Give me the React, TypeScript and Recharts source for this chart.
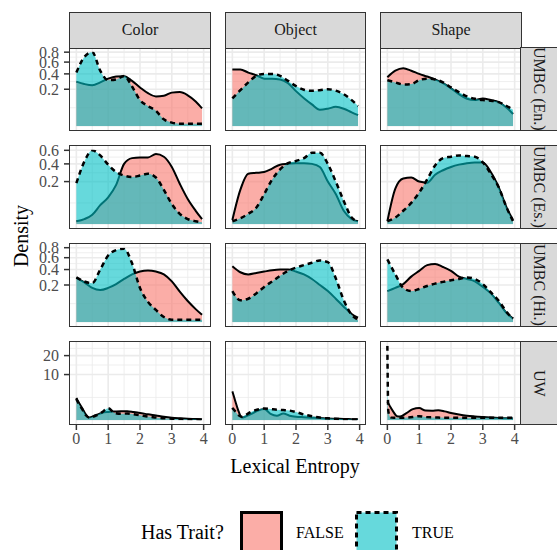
import { AreaChart, Area, XAxis, YAxis, CartesianGrid } from "recharts";

const facetCols = ["Color", "Object", "Shape"];
const facetRows = ["UMBC (En.)", "UMBC (Es.)", "UMBC (Hi.)", "UW"];

const xTicks = [0, 1, 2, 3, 4];
const xMinor = [0.5, 1.5, 2.5, 3.5];

// sampled entropy positions (UW rows need finer steps near 0)
const entropyX = [0, 0.25, 0.5, 0.75, 1, 1.25, 1.5, 1.75, 2, 2.25, 2.5, 2.75, 3, 3.25, 3.5, 3.75, 3.95];
const entropyXUW = [0, 0.03, 0.1, 0.2, 0.3, 0.4, 0.6, 0.8, 1, 1.2, 1.4, 1.6, 1.8, 2, 2.25, 2.5, 2.75, 3, 3.25, 3.5, 3.75, 3.95];

// UMBC (En.)
const colorEnFalse = [0.29, 0.26, 0.245, 0.28, 0.33, 0.36, 0.365, 0.3, 0.22, 0.16, 0.13, 0.135, 0.165, 0.17, 0.14, 0.09, 0.047];
const colorEnTrue = [0.42, 0.7, 0.8, 0.45, 0.31, 0.32, 0.37, 0.23, 0.1, 0.06, 0.035, 0.007, 0.002, 0.001, 0.001, 0.001, 0.001];
const objectEnFalse = [0.47, 0.47, 0.42, 0.38, 0.33, 0.33, 0.32, 0.27, 0.18, 0.115, 0.07, 0.04, 0.045, 0.055, 0.045, 0.028, 0.018];
const objectEnTrue = [0.113, 0.19, 0.28, 0.37, 0.4, 0.4, 0.37, 0.3, 0.235, 0.195, 0.183, 0.19, 0.2, 0.185, 0.15, 0.1, 0.06];
const shapeEnFalse = [0.35, 0.45, 0.49, 0.45, 0.4, 0.36, 0.32, 0.27, 0.21, 0.15, 0.11, 0.1, 0.113, 0.1, 0.085, 0.05, 0.022];
const shapeEnTrue = [0.31, 0.28, 0.255, 0.26, 0.31, 0.33, 0.32, 0.28, 0.22, 0.17, 0.13, 0.11, 0.1, 0.095, 0.085, 0.06, 0.04];

// UMBC (Es.)
const colorEsFalse = [0.001, 0.003, 0.01, 0.04, 0.08, 0.17, 0.4, 0.48, 0.49, 0.49, 0.54, 0.5, 0.36, 0.18, 0.07, 0.02, 0.003];
const colorEsTrue = [0.185, 0.43, 0.6, 0.52, 0.39, 0.3, 0.26, 0.245, 0.26, 0.28, 0.24, 0.13, 0.045, 0.012, 0.003, 0.001, 0.0005];
const objectEsFalse = [0.002, 0.13, 0.28, 0.29, 0.3, 0.34, 0.39, 0.4, 0.41, 0.41, 0.4, 0.36, 0.2, 0.1, 0.02, 0.003, 0.001];
const objectEsTrue = [0.001, 0.004, 0.012, 0.03, 0.1, 0.22, 0.33, 0.41, 0.44, 0.48, 0.56, 0.56, 0.4, 0.2, 0.06, 0.005, 0.001];
const shapeEsFalse = [0.001, 0.14, 0.23, 0.24, 0.2, 0.19, 0.27, 0.32, 0.36, 0.39, 0.41, 0.42, 0.42, 0.3, 0.15, 0.03, 0.002];
const shapeEsTrue = [0.001, 0.005, 0.02, 0.05, 0.11, 0.22, 0.38, 0.48, 0.5, 0.52, 0.51, 0.5, 0.42, 0.28, 0.15, 0.03, 0.001];

// UMBC (Hi.)
const colorHiFalse = [0.285, 0.23, 0.17, 0.15, 0.17, 0.21, 0.27, 0.33, 0.37, 0.385, 0.37, 0.33, 0.24, 0.135, 0.065, 0.025, 0.008];
const colorHiTrue = [0.29, 0.24, 0.22, 0.4, 0.64, 0.75, 0.78, 0.5, 0.17, 0.06, 0.022, 0.004, 0.001, 0.001, 0.001, 0.001, 0.001];
const objectHiFalse = [0.45, 0.36, 0.33, 0.35, 0.37, 0.39, 0.4, 0.4, 0.37, 0.33, 0.27, 0.2, 0.14, 0.08, 0.035, 0.01, 0.003];
const objectHiTrue = [0.14, 0.07, 0.08, 0.12, 0.18, 0.24, 0.31, 0.38, 0.43, 0.47, 0.51, 0.55, 0.52, 0.28, 0.07, 0.008, 0.001];
const shapeHiFalse = [0.14, 0.17, 0.21, 0.3, 0.38, 0.47, 0.49, 0.44, 0.38, 0.3, 0.27, 0.24, 0.18, 0.12, 0.055, 0.012, 0.002];
const shapeHiTrue = [0.57, 0.33, 0.17, 0.14, 0.16, 0.19, 0.215, 0.235, 0.255, 0.27, 0.29, 0.27, 0.21, 0.13, 0.067, 0.015, 0.002];

// UW
const colorUwFalse = [2.4, 2.0, 1.3, 0.6, 0.15, 0.04, 0.12, 0.26, 0.33, 0.37, 0.4, 0.4, 0.33, 0.26, 0.17, 0.11, 0.06, 0.033, 0.02, 0.012, 0.008, 0.005];
const colorUwTrue = [2.2, 1.8, 1.1, 0.5, 0.12, 0.035, 0.1, 0.3, 0.7, 0.25, 0.2, 0.22, 0.17, 0.12, 0.065, 0.04, 0.02, 0.013, 0.008, 0.005, 0.003, 0.002];
const objectUwFalse = [4.0, 3.2, 1.6, 0.35, 0.035, 0.06, 0.2, 0.45, 0.62, 0.2, 0.1, 0.22, 0.1, 0.06, 0.045, 0.034, 0.025, 0.016, 0.012, 0.008, 0.006, 0.005];
const objectUwTrue = [0.74, 0.6, 0.35, 0.12, 0.06, 0.12, 0.35, 0.55, 0.66, 0.6, 0.54, 0.5, 0.45, 0.33, 0.16, 0.08, 0.035, 0.018, 0.01, 0.006, 0.004, 0.003];
const shapeUwFalse = [1.7, 1.4, 0.8, 0.3, 0.08, 0.07, 0.25, 0.6, 0.72, 0.45, 0.44, 0.48, 0.38, 0.26, 0.16, 0.1, 0.07, 0.05, 0.035, 0.025, 0.02, 0.015];
const shapeUwTrue = [26.6, 0.4, 0.04, 0.03, 0.03, 0.03, 0.035, 0.05, 0.08, 0.05, 0.04, 0.035, 0.03, 0.03, 0.03, 0.03, 0.03, 0.03, 0.03, 0.03, 0.03, 0.03];

const rowMax = [0.81, 0.61, 0.8, 26.6];
const rowTicks = [[0.2, 0.4, 0.6, 0.8], [0.2, 0.4, 0.6], [0.2, 0.4, 0.6, 0.8], [10, 20]];
const rowMinor = [[0.05, 0.291, 0.495, 0.696], [0.05, 0.291, 0.495], [0.05, 0.291, 0.495, 0.696], [2.5, 14.6, 24.7]];

const densities = [
  [[colorEnFalse, colorEnTrue], [objectEnFalse, objectEnTrue], [shapeEnFalse, shapeEnTrue]],
  [[colorEsFalse, colorEsTrue], [objectEsFalse, objectEsTrue], [shapeEsFalse, shapeEsTrue]],
  [[colorHiFalse, colorHiTrue], [objectHiFalse, objectHiTrue], [shapeHiFalse, shapeHiTrue]],
  [[colorUwFalse, colorUwTrue], [objectUwFalse, objectUwTrue], [shapeUwFalse, shapeUwTrue]],
];

const FONT = '"Liberation Serif", "Times New Roman", serif';
const colLeft = [70, 225.5, 381];
const rowTop = [48, 146, 244, 342];
const PW = 140;
const PH = 82;
const STRIP = 36;
const TOPROOM = 10; // room above the panel so the top tick label isn't clipped

const tickStyle = { fill: "#4D4D4D", fontSize: 16, fontFamily: FONT };

function Panel({ r, c }: { r: number; c: number }) {
  const first = c === 0;
  const last = r === 3;
  const yw = first ? 50 : 0;
  const xh = last ? 32 : 0;
  const xs = r === 3 ? entropyXUW : entropyX;
  const [fs, ts] = densities[r][c];
  const data = xs.map((x, i) => ({ x, f: fs[i], t: ts[i] }));
  return (
    <div style={{ position: "absolute", left: colLeft[c] - yw, top: rowTop[r] - TOPROOM }}>
      <AreaChart
        width={PW + yw}
        height={PH + xh + TOPROOM}
        data={data}
        margin={{ top: TOPROOM, right: 0, bottom: 0, left: 0 }}
      >
        <CartesianGrid stroke="#EBEBEB" strokeWidth={0.8} verticalValues={xMinor} horizontalValues={rowMinor[r]} />
        <CartesianGrid stroke="#EBEBEB" strokeWidth={1.6} verticalValues={xTicks} horizontalValues={rowTicks[r]} />
        <XAxis
          type="number"
          dataKey="x"
          domain={[-0.2, 4.2]}
          ticks={xTicks}
          interval={0}
          hide={!last}
          height={xh}
          axisLine={false}
          tickSize={6}
          tickMargin={3}
          tickLine={{ stroke: "#333333", strokeWidth: 1.5 }}
          tick={tickStyle}
          allowDataOverflow
        />
        <YAxis
          type="number"
          scale="sqrt"
          domain={[0, rowMax[r]]}
          ticks={rowTicks[r]}
          interval={0}
          padding={{ top: 3.7, bottom: 3.7 }}
          hide={!first}
          width={yw}
          axisLine={false}
          tickSize={6}
          tickMargin={5}
          tickLine={{ stroke: "#333333", strokeWidth: 1.5 }}
          tick={tickStyle}
          tickFormatter={(v: number) => (r === 3 ? String(v) : v.toFixed(1))}
          allowDataOverflow
        />
        <Area
          type="monotone"
          dataKey="f"
          fill="#F8766D"
          fillOpacity={0.6}
          stroke="#000000"
          strokeWidth={2}
          dot={false}
          activeDot={false}
          isAnimationActive={false}
        />
        <Area
          type="monotone"
          dataKey="t"
          fill="#00BFC4"
          fillOpacity={0.6}
          stroke="#000000"
          strokeWidth={2.5}
          strokeDasharray="5 4"
          dot={false}
          activeDot={false}
          isAnimationActive={false}
        />
      </AreaChart>
      <div
        style={{
          position: "absolute",
          left: yw - 0.75,
          top: TOPROOM - 0.75,
          width: PW + 1.5,
          height: PH + 1.5,
          border: "1.5px solid #333333",
          boxSizing: "border-box",
          pointerEvents: "none",
        }}
      />
    </div>
  );
}

export default function App() {
  return (
    <div
      style={{
        position: "absolute",
        left: 0,
        top: 0,
        width: 557,
        height: 550,
        overflow: "hidden",
        background: "#fff",
        fontFamily: FONT,
      }}
    >
      <style>{`.recharts-text, .recharts-cartesian-axis-tick-value { font-family: ${FONT}; }`}</style>
      {rowTop.map((_, r) =>
        colLeft.map((__, c) => <Panel key={`${r}-${c}`} r={r} c={c} />)
      )}
      {facetCols.map((name, c) => (
        <div
          key={name}
          style={{
            position: "absolute",
            left: colLeft[c] - 0.75,
            top: rowTop[0] - STRIP,
            width: PW + 1.5,
            height: STRIP + 0.75,
            background: "#D9D9D9",
            border: "1.5px solid #333333",
            boxSizing: "border-box",
            display: "flex",
            alignItems: "center",
            justifyContent: "center",
            fontSize: 16,
            color: "#1A1A1A",
          }}
        >
          {name}
        </div>
      ))}
      {facetRows.map((name, r) => (
        <div
          key={name}
          style={{
            position: "absolute",
            left: colLeft[2] + PW - 0.75,
            top: rowTop[r] - 0.75,
            width: STRIP + 1.5,
            height: PH + 1.5,
            background: "#D9D9D9",
            border: "1.5px solid #333333",
            boxSizing: "border-box",
            display: "flex",
            alignItems: "center",
            justifyContent: "center",
            fontSize: 16,
            color: "#1A1A1A",
          }}
        >
          <span style={{ writingMode: "vertical-rl", whiteSpace: "nowrap" }}>{name}</span>
        </div>
      ))}
      <div
        style={{
          position: "absolute",
          left: 21 - 60,
          top: 236 - 12,
          width: 120,
          lineHeight: "24px",
          textAlign: "center",
          fontSize: 20,
          transform: "rotate(-90deg)",
        }}
      >
        Density
      </div>
      <div
        style={{
          position: "absolute",
          left: 295 - 100,
          top: 466 - 12,
          width: 200,
          lineHeight: "24px",
          textAlign: "center",
          fontSize: 20,
        }}
      >
        Lexical Entropy
      </div>
      <div style={{ position: "absolute", left: 141, top: 520, lineHeight: "24px", fontSize: 20 }}>Has Trait?</div>
      <svg style={{ position: "absolute", left: 240, top: 511 }} width={44} height={44}>
        <rect x={1.5} y={1.5} width={40} height={40} fill="#F8766D" fillOpacity={0.6} stroke="#000" strokeWidth={3} />
      </svg>
      <div style={{ position: "absolute", left: 296, top: 522, lineHeight: "22px", fontSize: 16 }}>FALSE</div>
      <svg style={{ position: "absolute", left: 355, top: 511 }} width={44} height={44}>
        <rect
          x={1.5}
          y={1.5}
          width={40}
          height={40}
          fill="#00BFC4"
          fillOpacity={0.6}
          stroke="#000"
          strokeWidth={3}
          strokeDasharray="5 4"
        />
      </svg>
      <div style={{ position: "absolute", left: 412, top: 522, lineHeight: "22px", fontSize: 16 }}>TRUE</div>
    </div>
  );
}
